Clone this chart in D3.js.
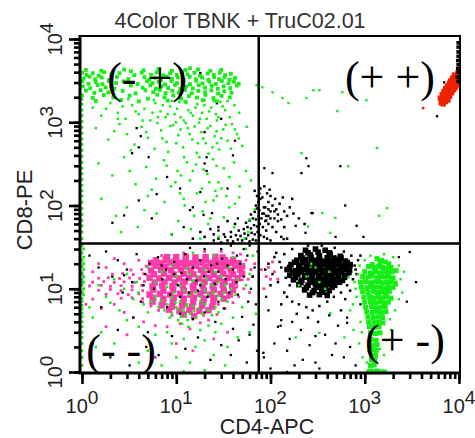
<!DOCTYPE html>
<html>
<head>
<meta charset="utf-8">
<script src="https://cdn.jsdelivr.net/npm/d3@7"></script>
<style>
  body { margin: 0; background: #fff; }
</style>
</head>
<body>
<svg id="chart"></svg>
<script>
// Axis decades and their exponent labels
const tickPowers = [1, 10, 100, 1000, 10000];
const exponentLabels = ["0", "1", "2", "3", "4"];

// Quadrant gates (CD4, CD8)
const gateCD4 = 75;
const gateCD8 = 35;

// Events as [CD4-APC, CD8-PE]

// CD8+ T cells, dense band at top left
const greenBand = [
  [1.1,4250],[1.6,4150],[2.8,4300],[4.5,4200],[6.5,4350],[9,4150],[12.5,4250],[17,4300],[23,4150],[30,4250],[3.3,4100],[14,4450],
  [1.0,3950],[1.12,3700],[1.3,3880],[1.5,3620],[1.72,3990],[2.05,3750],[2.5,3900],[3.6,3680],[4.3,3950],[5.4,3720],[6.2,3980],
  [7.3,3650],[8.6,3870],[10.1,3700],[11.5,4020],[13.2,3760],[15.6,3920],[17.9,3640],[21.5,3850],[25,3700],[29,3950],[33,3680],[38,3820],
  [1.04,3350],[1.2,3520],[1.38,3280],[1.62,3450],[1.95,3230],[2.35,3500],[3.1,3300],[4.6,3480],[5.2,3250],[6.0,3420],[6.9,3210],
  [7.9,3530],[9.0,3300],[10.4,3460],[12.0,3240],[13.9,3510],[16.1,3280],[18.8,3440],[21.9,3220],[25.3,3500],[28.4,3300],[32.5,3470],[36.8,3250],[42,3400],
  [1.0,3100],[1.17,2900],[1.4,3050],[1.65,2870],[1.92,3140],[2.3,2960],[2.75,3100],[3.9,2880],[4.9,3120],[5.6,2930],[6.5,3060],
  [7.6,2850],[8.9,3130],[10.2,2950],[11.9,3080],[14,2870],[16.3,3150],[19,2920],[22.4,3070],[26.3,2880],[30.5,3120],[35.8,2940],[41,3060],[46,2900],
  [1.02,2700],[1.22,2560],[1.46,2790],[1.78,2620],[2.2,2520],[3.3,2760],[4.4,2600],[5.3,2780],[6.1,2540],[7.0,2700],[8.2,2580],
  [9.7,2800],[11.0,2530],[12.8,2680],[15,2550],[17.3,2780],[20.2,2600],[23.8,2740],[27.6,2520],[31.8,2700],[37.3,2570],[44,2760],
  [1.1,2400],[1.35,2250],[1.58,2430],[1.9,2280],[2.7,2380],[3.7,2220],[4.7,2420],[5.7,2300],[6.7,2450],[7.7,2240],[9.1,2390],
  [10.6,2270],[12.4,2440],[14.6,2230],[17.1,2380],[20.3,2290],[23.6,2420],[27.8,2210],[32.4,2360],[38.5,2260],
  [1.0,2100],[1.3,1960],[1.7,2120],[2.15,1990],[3.2,2080],[5.0,1920],[6.3,2140],[7.5,2000],[9.3,2100],[11.2,1930],[13.6,2060],
  [16.6,1980],[20.4,2130],[24.8,1950],[30.2,2070],[37,1990],
  [1.4,1800],[2.6,1850],[4.0,1780],[8.1,1820],[12.5,1760],[19,1840],[27,1790]
];

// CD8+ events spread below the band
const greenUpper = [
  [1.3,1500],[1.6,1200],[2.0,1700],[2.4,1300],[2.9,1100],[3.4,1600],[4.0,1250],[4.6,1450],[5.3,1050],[6.0,1700],
  [6.8,1350],[7.7,1150],[8.6,1550],[9.6,1250],[10.8,1750],[12,1050],[13.4,1400],[15,1200],[16.8,1650],[18.8,1300],
  [21,1100],[23.5,1500],[26.3,1250],[29.4,1750],[33,1400],[37,1150],[41.5,1600],[46.5,1300],[3.1,1900],[5.8,1850],
  [11.5,1900],[20,1850],[27,1050],[35,1800],
  [1.8,1450],[2.7,1550],[3.7,1350],[4.4,1050],[5.6,1300],[7.2,1600],[8.1,1250],[9.0,1800],[10.2,1450],[11.1,1150],
  [12.8,1700],[14.2,1300],[16,1500],[17.8,1100],[19.9,1600],[22.3,1350],[24.9,1800],[28,1150],[31,1550],[2.4,1100],
  [6.4,1150],[9.9,1000],
  [1.4,850],[1.9,620],[2.5,950],[3.0,720],[3.6,540],[4.3,880],[5.0,650],[5.9,480],[6.9,800],[7.9,580],
  [9.2,920],[10.5,700],[11.8,500],[13.3,850],[14.8,620],[16.5,430],[18.5,760],[20.5,560],[23,900],[25.5,680],
  [28.5,470],[31.5,820],[35,600],[39,950],[44,720],[50,520],[8.2,440],[12.6,980],[17.5,990],[22,420],
  [27,560],[3.3,460],[2.2,780],[6.3,980],[56,880],
  [4.8,760],[7.1,640],[8.6,900],[10.0,560],[11.1,820],[13.9,720],[15.7,890],[17,560],[19.3,640],[21.5,850],
  [24.2,500],[26.8,780],[30,640],[33.4,930],[38,480],[42,820],[46,640],
  [1.5,320],[2.1,230],[2.8,380],[3.7,180],[4.8,290],[6.1,210],[7.4,350],[8.8,170],[10.3,260],[12.1,380],
  [14,200],[16.2,310],[18.7,160],[21.4,240],[24.5,360],[28,190],[32,280],[36.5,220],[41,330],[47,170],
  [55,260],[62,200],[9.8,190],[13,330],[19.5,270],[26,150],[5.5,155],[3.2,260],
  [7.9,300],[11.2,230],[15,260],[17.6,380],[22.5,190],[26.8,300],[30.2,160],
  [1.6,120],[2.3,75],[3.0,95],[3.9,55],[5.0,130],[6.2,80],[7.5,110],[8.9,45],[10.5,65],[12.3,100],
  [14.3,52],[16.6,140],[19,85],[21.8,60],[24.8,115],[28.2,42],[32,72],[36.5,95],[41,55],[46.5,125],
  [53,40],[60,68],[68,90],[11,140],[18,40],[27,130],[42,105],[58,48],[2.6,48],[4.6,88],
  [12,120],[15.5,75],[20.5,110],[23,70],[34,130]
];

// green events piled on the CD4 axis
const greenAxis = [
  [1,1900],[1,1650],[1,1400],[1,1200],[1,1020],[1,870],[1,740],[1,630],[1,540],[1,460],[1,390],[1,330],
  [1,280],[1,240],[1,205],[1,175],[1,150],[1,130],[1,110],[1,92],[1,78],[1,66],[1,57],[1,48],[1,40],
  [1,33],[1.04,30],[1,27],[1.04,24],[1,22],[1.04,20],[1,18.5],[1.04,17],[1,15.5],[1.04,14],[1,13],[1.04,12],
  [1,11],[1.04,10],[1,9.2],[1.04,8.4],[1,7.6],[1,7],[1,6.3],[1,5.7],[1,5.1],[1,4.6],[1,4],[1,3.5],[1,3],
  [1,2.6],[1,2.2],[1,1.8],[1,1.5],[1,1.2]
];

// green events in the double-negative quadrant
const greenLow = [
  [6,8],[7,7.2],[8,6.5],[9,7.8],[10,6],[11,7],[12,5.5],[13,6.5],[14,5],[15,6.2],[16,4.5],[17,5.8],[18,7],[19,5],
  [20,6.5],[22,5.5],[24,4.8],[26,6],[28,5.2],[30,7.5],[9,5],[10.5,4.2],[12.5,4.8],[8.5,4.5],[11.5,3.8],[13.5,3.5],
  [7.5,5.5],[6.5,6],[5.5,7],[5,5.2],[4.5,6.5],[9.5,9],[12,9.5],[14,8.5],[16,9],[18,8],[20,9.5],[22,8.5],[25,9],
  [28,8.2],[32,9],[35,7],[24,11],[19,11.5],[15,12.5],[11,11],[8,10.5],[6,12],[28,12],[33,11],[38,10],[42,8.5],
  [30,14],[26,16],[20,17],[14,15],[10,14],[7,16],[36,18],[45,13],[18,3.2],[22,3.6],[26,3],[8,3],[6,2.8],[4,3.5],
  [3,4.2],[2.5,5.5],[2,6.8],[3.5,7.5],[4,9],[2.8,10],[1.8,8],[1.5,11],[2.2,13],[3,15],[5,18],[3.8,12],[12,2.5],
  [16,2],[9,2.2],[20,2.4],[30,3.8],[40,4.5],[50,6],[55,11],[60,15],[48,20],[40,24],[25,25],[15,27],[55,30],
  [65,25],[5,1.8],[10,1.5],[14,1.3],[25,1.6],[35,2],[45,2.6],[60,3],[70,5],[33,1.2],[20,1.05],[12,1.02],[4,1.3],
  [2.2,2.2],[1.6,3],[1.3,4.5],[1.2,6],[1.4,2],[7,1.2],[17,14],[21,13],[13,17.5],[9,19],
  [10.5,5.6],[12.8,6.2],[15.5,5.4],[11.2,4.6],[13.2,4.2],[9.8,6.8]
];

// CD4+ T cells, green column
const greenColumn = [
  [1350,23],[1500,22],[1650,21],[1450,20.5],[1800,20],[1200,19.5],
  [1100,18.5],[1250,18],[1400,18.5],[1550,18],[1700,17.5],[1900,18],[1300,17],
  [1000,16],[1150,15.5],[1300,16],[1450,15.5],[1600,16],[1750,15.5],[1950,16],[2150,16.5],
  [950,14],[1080,13.8],[1200,14.2],[1350,13.6],[1500,14],[1650,13.8],[1800,14],[2000,13.5],
  [900,12],[1020,12.2],[1150,11.8],[1280,12],[1420,12.2],[1560,11.8],[1720,12],[1900,12.2],[2100,11.7],
  [920,10.5],[1050,10.3],[1180,10.6],[1320,10.4],[1470,10.5],[1620,10.2],[1780,10.6],[2000,10.4],
  [950,9.2],[1080,9.0],[1220,9.3],[1360,9.0],[1500,9.2],[1650,9.0],[1820,9.3],
  [980,7.9],[1120,8.0],[1260,7.8],[1400,8.0],[1550,7.8],[1720,8.0],[1900,7.7],
  [1000,6.9],[1150,7.0],[1300,6.8],[1450,7.0],[1600,6.8],[1780,6.9],
  [1020,6.0],[1180,6.1],[1330,5.9],[1480,6.0],[1650,6.1],
  [1050,5.3],[1200,5.2],[1350,5.3],[1500,5.2],[1680,5.3],
  [1080,4.6],[1230,4.5],[1380,4.6],[1550,4.5],
  [1100,4.0],[1250,3.95],[1400,4.0],[1560,3.9],
  [1120,3.5],[1270,3.45],[1420,3.5],
  [1150,2.95],[1300,2.9],[1450,2.95],
  [1170,2.45],[1320,2.4],[1200,2.1],[1350,2.12],[1220,1.85],[1330,1.82],
  [1200,1.6],[1300,1.58],[1180,1.4],[1280,1.38],[1150,1.2],[1260,1.22],
  [1100,1.0],[1200,1.0],[1300,1.0],[1400,1.0],[1500,1.0],[1620,1.0],[1150,1.03],[1350,1.03]
];
const greenColumnFringe = [
  [780,12],[820,8],[850,15],[700,5.5],[760,3.2],[880,19],[870,2.2],[2400,13],[2500,9],[2300,19],
  [2600,16],[2100,5.5],[1900,3.2],[1700,2.4],[1000,22],[1150,25],[1600,26],[2000,24],[950,1.5],[1050,1.3],
  [1600,1.6],[800,10],[750,6.5],[2300,7.5],[1850,4.3],[900,4.0],[930,3.0],[1100,1.8],[1450,1.9],[2200,11],
  [330,2.95],[610,2.6],[185,2.6],[430,5.1],[670,13.8],[240,14],[330,12],[300,18],[420,16],[200,11],[270,20],[380,10]
];

// green events in the CD4+CD8+ region
const greenUpperRight = [
  [71,2790],[82,2630],[105,2290],[134,1950],[155,1700],[240,1950],[285,2430],[330,2430],[578,2290],[1040,1840],
  [512,1360],[1355,490],[213,425],[668,297],[355,81],[487,71],[1420,75],[1730,93],[250,56],[430,47]
];

// pink population (CD3- / NK)
const pinkCore = [
  [8,24],[10,24],[12.6,24.3],[16,23.8],[20.5,24],[26,24.2],[31,23.8],
  [6.1,22],[7.7,22.3],[9.9,21.8],[12.6,22.2],[16,22],[20.5,22.3],[26,21.8],[33,22],[40,22.2],
  [5.4,20.4],[6.9,20.2],[8.8,20.6],[11.2,20.4],[14.2,20.2],[18.2,20.6],[23.2,20.4],[29.6,20.2],[37.8,20.5],[46,20.3],
  [6.1,18.9],[7.7,18.5],[9.9,18.8],[12.6,18.6],[16,18.9],[20.5,18.5],[26.2,18.8],[33.4,18.6],[42.6,18.9],[50,18.6],
  [5.4,16.6],[6.9,16.9],[8.8,16.7],[11.2,17],[14.2,16.6],[18.2,16.9],[23.2,16.7],[29.6,17],[37.8,16.6],[48,16.9],
  [5.8,14.9],[7.4,15.2],[9.4,14.8],[12,15.1],[15.2,14.9],[19.5,15.2],[25,14.8],[31.5,15.1],[40,14.9],[50,15.1],
  [5.2,13.6],[6.6,13.3],[8.4,13.5],[10.7,13.3],[13.6,13.6],[17.4,13.3],[22.2,13.5],[28.3,13.3],[36,13.6],[45,13.4],
  [5.9,11.9],[7.5,12.1],[9.6,11.9],[12.3,12.2],[15.7,11.9],[20,12.1],[25.6,11.9],[32.7,12.2],[41.7,12],
  [5.6,10.7],[7.1,10.9],[9.1,10.7],[11.7,11],[15,10.7],[19.1,10.9],[24.4,10.7],[31.2,11],[39,10.8],
  [5.7,9.8],[7.3,9.5],[9.3,9.7],[12,9.5],[15.3,9.8],[19.6,9.5],[25,9.7],[32,9.5],[40,9.7],
  [5.2,8.5],[6.7,8.7],[8.6,8.5],[11,8.7],[14.1,8.5],[18,8.7],[23,8.5],[29.5,8.7],[37,8.5],
  [5.7,7.8],[7.3,7.6],[9.4,7.8],[12,7.6],[15.4,7.8],[19.7,7.6],[25.2,7.8],[32,7.6],
  [5.6,7.0],[7.2,6.8],[9.2,7.0],[11.8,6.8],[15.1,7.0],[19.3,6.8],[24.7,7.0],
  [7,6.3],[9,6.1],[11.5,6.3],[14.7,6.1],[18.8,6.3],[24,6.1],
  [8.4,5.6],[10.8,5.4],[13.8,5.6],[17.6,5.4],[22,5.5],[12,4.9],[15.5,4.7]
];
const pinkFringe = [
  [4.8,18.7],[3.3,16.8],[4.3,17],[2.1,15],[2.7,15.2],[3.5,14.8],[4.5,15.1],[1.5,13.4],[1.9,13.6],[2.5,13.3],
  [3.2,13.5],[4.1,13.3],[1.3,12],[1.7,12.2],[2.2,11.9],[2.8,12.1],[3.6,11.9],[4.6,12.2],[1.2,10.8],[1.6,11],
  [2.0,10.7],[2.6,10.9],[3.4,10.7],[4.3,11],[1.5,9.6],[2.0,9.8],[2.6,9.5],[3.4,9.7],[4.4,9.5],[1.8,8.6],
  [2.4,8.7],[3.1,8.5],[4.0,8.7],[2.6,7.7],[3.4,7.8],[4.4,7.6],[4.4,6.9],[5.4,6.2],[6.5,5.5],[9,4.8],[19.5,4.8],
  [1.0,12],[1.0,9],[1.0,15],[1.1,6.5],[1.3,7.5],[1.6,5.8],[2.2,6.5],[2.8,5.2],[3.5,4.5],[4.5,4.0],
  [6,3.6],[8,3.5],[11,3.8],[14,3.3],[18,3.9],[22,4.2],[27,4.9],[33,5.8],[40,6.8],[46,8],
  [52,10],[58,13],[62,17],[55,22],[48,26],[40,27],[30,28],[20,28],[12,27],[7,25],
  [4,22],[2.8,20],[1.8,18],[1.3,16],[1.5,20],[2.2,23],[64,14],[68,20],[60,9],[25,2.5],
  [10,2.2],[3,2.8],[1.8,3.5],[6,1.5],[15,1.8],[35,3],[80,17],[90,14],[85,10],[95,18],
  [100,13],[110,16],[120,13],[105,21],[44,10.5],[50,12.8],[28,6.5],[36,7.8]
];

// black events: lower left scatter
const blackLow = [
  [1.2,25],[1.5,18],[1.8,28],[2.1,14],[2.4,22],[2.7,9],[3.0,17],[3.4,12],[3.8,26],[4.2,7],[4.7,15],[5.2,20],
  [5.8,10],[6.4,24],[7.1,13],[7.8,17],[8.6,8.5],[9.5,21],[10.4,11],[11.4,15.5],[12.5,26],[13.7,9],[15,18],
  [16.4,12.5],[18,22],[19.7,14],[21.5,8],[23.5,19],[25.7,11.5],[28,16],[30.6,23],[33.4,13],[36.5,9],[40,17],
  [43.6,12],[47.6,20],[52,14],[56.8,25],[62,10],[67.8,18],[73,28],[8,6],[11,5],[15,4.3],[20,5.2],[26,4],
  [32,5.8],[40,3.3],[50,4.6],[60,2.8],[70,6.5],[5,3],[3.5,4.5],[2.4,3.2],[1.6,6],[1.3,2.2],[2,1.5],[3.2,1.2],
  [4.8,2],[6.5,1.6],[9,2.7],[12.5,1.9],[17,2.6],[23,1.4],[30,2.1],[38,1.6],[46,2.4],[56,1.3],[66,3.7],[72,1.8],
  [18,11],[22,16],[27,20],[13,13],[9.5,15],[7,19],[35,19],[44,25],[52,30],[30,30],[20,30],[14,31],[60,33],
  [38,33],[65,14],[58,7],[45,8.5],[28,7],[17,9.5],[11,8],[4.5,11],[2.8,14.5]
];

// black events: lower right scatter
const blackLowRight = [
  [120,3.5],[160,2.5],[210,3.2],[150,1.8],[260,2.1],[300,1.3],[380,2.8],[450,1.6],[95,5.5],[110,2.2],
  [85,1.5],[100,1.1],[520,3.6],[700,2.0],[650,4.5],[900,6.5],[3000,27.6],[2300,24],[2800,7],[3500,12],
  [90,8],[220,1.4],[330,1.1],[800,1.2],[130,4.2],[180,1.2],[600,1.5],[650,3.9],[490,2.2],[150,1.0],
  [84,1.7],[128,3.6],[170,4],[300,2.7]
];

// black dense cluster (CD4 dim, CD8-)
const blackCluster = [
  [235,29],[300,30],[380,29],[250,27],[320,27.5],[420,27],
  [210,25],[265,25.5],[330,25],[430,26],[550,24.5],
  [215,23.5],[270,23.8],[330,23.3],[400,23.6],[470,23.4],[560,23.7],
  [190,22],[235,22.5],[290,22],[350,21.5],[420,22],[500,22.5],[620,21.5],
  [180,20.8],[220,20.6],[270,20.9],[325,20.6],[390,20.8],[460,20.6],[540,20.9],[650,20.7],
  [165,19.5],[205,19],[250,19.5],[300,19],[360,19.5],[430,19],[500,19.5],[580,19],[700,19.5],
  [160,18],[200,18.2],[240,17.9],[290,18.1],[340,17.9],[400,18.2],[470,17.9],[550,18.1],[640,18],
  [150,17],[185,16.5],[225,17],[270,16.5],[320,17],[380,16.5],[440,17],[510,16.5],[600,17],[690,16.8],
  [170,15.7],[210,15.9],[255,15.6],[300,15.8],[355,15.6],[410,15.9],[480,15.6],[570,15.8],[680,15.7],
  [160,14.5],[195,14.8],[235,14.5],[280,14.8],[330,14.5],[390,14.8],[450,14.5],[530,14.8],[640,14.5],
  [185,13.6],[230,13.8],[275,13.5],[325,13.7],[380,13.5],[440,13.8],[520,13.5],[610,13.7],
  [175,12.8],[215,12.6],[260,12.8],[310,12.6],[360,12.8],[420,12.6],[490,12.8],[580,12.6],
  [210,11.9],[270,12],[330,11.8],[390,12],[460,11.9],[540,12],
  [200,11.2],[250,11],[300,11.2],[350,11],[410,11.2],[480,11],
  [240,10.3],[310,10.4],[380,10.2],[450,10.4],[230,9.7],[290,9.5],[350,9.7],[420,9.5],
  [280,9],[360,9.1],[260,8.4],[330,8.5],[400,8.3]
];
const blackClusterFringe = [
  [95,20],[105,15],[110,24],[120,12],[130,18],[140,9],[100,11],[88,17],[115,27],[150,8],[170,7],[200,6.5],
  [240,6],[280,5.5],[330,6.2],[400,7],[470,8],[560,9],[650,11],[750,13],[800,17],[850,22],[720,25],[600,28],
  [480,31],[350,33],[250,33],[170,30],[140,26],[125,21],[160,11],[145,13.5],[780,19],[820,15],[900,25],
  [250,4.5],[320,4],[420,4.8],[190,5],[560,5.5],[130,6.5],[620,7.5],[700,9.5]
];

// black events along the gate corner
const blackCorner = [
  [35,38],[40,37],[45,39],[50,38],[55,40],[60,37],[65,39],[70,38],[38,42],[43,44],[48,43],[53,46],[58,44],
  [63,47],[68,45],[73,48],[78,44],[85,42],[92,40],[100,38],[46,50],[52,52],[57,55],[62,53],[67,58],[72,56],
  [77,60],[83,55],[90,50],[55,62],[60,66],[65,70],[70,68],[75,74],[80,70],[88,65],[95,60],[105,55],[62,78],
  [68,84],[72,92],[76,88],[82,80],[90,75],[100,70],[70,100],[74,110],[78,120],[72,130],[76,140],[68,150],
  [85,95],[95,90],[110,85],[120,65],[115,48],[130,42],[140,55],[150,40],[30,36],[28,40],[25,45],
  [15,40],[20,42],[25,38],[18,48],[23,52],[32,45],[28,55],[38,48],[42,60],[35,65],
  [85,80],[90,66],[95,75],[100,85],[110,70],[120,78],[130,68],[88,95],[95,110],[105,100],[115,90],
  [125,105],[140,85],[150,75],[82,125],[92,140],[100,130],[112,120],[78,160],[86,170],[98,155],[135,125],
  [160,95],[175,80],[200,70],[230,60],[170,120]
];

// black events in upper quadrants
const blackUpper = [
  [18,3900],[6,2500],[11,2130],[27,1690],[20,760],[3.8,850],[4.2,680],[3.4,425],[5.1,380],[21,380],[40,400],
  [4,500],[20,320],[21,260],[11,160],[18,145],[6.2,137],[4,115],[14,88],[24,81],[2.8,76],[2.1,62],[5.5,70],
  [15,95],[19.5,77],[42,600],[30,1100],[8,220],[35,160],[28,50],[12,55],[45,70],[9,45],[33,42],
  [280,81],[620,100],[820,57],[185,57],[235,47],[490,42],[970,42],[138,39.5],[240,370],[253,297],[86,281],
  [105,245],[213,245],[551,297],[272,81],[5850,1180],[6960,3020]
];

// black events saturated at the CD4 ceiling
const blackEdge = [
  [9800,9000],[9800,8000],[9800,7000],[9800,6200],[9700,5500],[9800,4900],[9700,4400],[9800,4000],[9600,3500],[9800,3100]
];

// double-positive red population
const redCluster = [
  [9750,3880],[9290,3670],[10000,3480],[9070,3380],[9520,3200],[8640,3110],[9290,2950],[8230,2870],[8850,2710],
  [7840,2640],[8430,2570],[7460,2500],[8030,2360],[7280,2300],[7650,2170],[6930,2110],[7460,2060],[6780,2000],
  [7110,1890],[6610,1840],[6930,1790],[6460,1740],[7280,1950],[7840,2300],[8430,2790],[9070,3030],[9750,3290],
  [8230,2430],[6780,2170],[7650,1840],
  [8900,3700],[8500,3400],[8100,3150],[7900,2950],[7500,2750],[7200,2550],[6900,2350],[6600,2150],[6300,1950],
  [6500,1700],[6800,1680],[9700,3900],[10000,4000],[10000,3700],[10000,3200],[10000,2950],[9600,2800],[9200,2600],
  [8800,2450],[8400,2250],[8000,2050],[7600,1900],[7200,1760],[6800,1650]
];
const redStray = [[4160,1480]];

// quadrant labels, placed in data coordinates
const quadrantLabels = [
  { text: "(- +)", cd4: 4.9, cd8: 2250 },
  { text: "(+ +)", cd4: 1850, cd8: 2300 },
  { text: "(+ -)", cd4: 2670, cd8: 1.6 },
  { text: "(- -)", cd4: 2.6, cd8: 1.21 }
];

const width = 475;
const height = 438;

const svg = d3.select("#chart")
    .attr("width", width)
    .attr("height", height);

const x = d3.scaleLog().domain([1, 10000]).range([82, 459]);
const y = d3.scaleLog().domain([1, 10000]).range([372, 39]);

// clip to the plot frame
svg.append("clipPath").attr("id", "frame")
  .append("rect").attr("x", 80).attr("y", 36).attr("width", 380).attr("height", 337);

const plot = svg.append("g").attr("clip-path", "url(#frame)");

function dots(data, color, size) {
    plot.append("g")
        .attr("fill", color)
        .selectAll("rect")
        .data(data)
        .join("rect")
        .attr("x", d => x(d[0]) - size / 2)
        .attr("y", d => y(d[1]) - size / 2)
        .attr("width", size)
        .attr("height", size);
}

const GREEN = "#14ee14";
const PINK = "#fb3caa";
const RED = "#ee2200";
const BLACK = "#000";

dots(pinkFringe, PINK, 2.8);
dots(pinkCore, PINK, 6.4);
dots(greenAxis, GREEN, 2.8);
dots(greenLow, GREEN, 2.5);
dots(blackLow, BLACK, 2.3);
dots(blackLowRight, BLACK, 2.3);
dots(blackClusterFringe, BLACK, 2.5);
dots(blackCluster, BLACK, 5.6);
dots(blackCorner, BLACK, 2.5);
dots(blackUpper, BLACK, 2.3);
dots(greenColumn, GREEN, 5);
dots(greenColumnFringe, GREEN, 2.4);
dots(greenUpper, GREEN, 2.5);
dots(greenUpperRight, GREEN, 2.4);
dots(greenBand, GREEN, 3.8);
dots(redCluster, RED, 5);
dots(redStray, RED, 2.6);
dots(blackEdge, BLACK, 3.6);

// gate lines
svg.append("line")
    .attr("x1", x(gateCD4)).attr("x2", x(gateCD4))
    .attr("y1", 36).attr("y2", 373)
    .attr("stroke", "#000").attr("stroke-width", 2.5);
svg.append("line")
    .attr("x1", 80).attr("x2", 460)
    .attr("y1", y(gateCD8)).attr("y2", y(gateCD8))
    .attr("stroke", "#000").attr("stroke-width", 2.5);

// frame
svg.append("path")
    .attr("d", "M80,36H460V373")
    .attr("fill", "none").attr("stroke", "#000").attr("stroke-width", 2);
svg.append("path")
    .attr("d", "M80,35V373H461")
    .attr("fill", "none").attr("stroke", "#000").attr("stroke-width", 3);

// axes: minor then major ticks
function styleAxis(g) {
    g.select(".domain").remove();
    g.selectAll("line").attr("stroke", "#000").attr("stroke-width", 2.6);
}
svg.append("g").attr("transform", "translate(0,373)")
    .call(d3.axisBottom(x).tickValues(x.ticks()).tickSize(6).tickSizeOuter(0).tickFormat(""))
    .call(styleAxis);
svg.append("g").attr("transform", "translate(0,373)")
    .call(d3.axisBottom(x).tickValues(tickPowers).tickSize(11).tickSizeOuter(0).tickFormat(""))
    .call(styleAxis);
svg.append("g").attr("transform", "translate(80,0)")
    .call(d3.axisLeft(y).tickValues(y.ticks()).tickSize(6).tickSizeOuter(0).tickFormat(""))
    .call(styleAxis);
svg.append("g").attr("transform", "translate(80,0)")
    .call(d3.axisLeft(y).tickValues(tickPowers).tickSize(11).tickSizeOuter(0).tickFormat(""))
    .call(styleAxis);

const sans = "'Liberation Sans', Arial, Helvetica, sans-serif";

// tick labels 10^n
const xLabels = svg.append("g")
    .attr("font-family", sans).attr("font-size", 20).attr("fill", "#222")
    .selectAll("text").data(tickPowers).join("text")
    .attr("x", d => x(d)).attr("y", 413)
    .attr("text-anchor", "middle");
xLabels.append("tspan").text("10");
xLabels.append("tspan").attr("dy", -9).attr("font-size", 19).text((d, i) => exponentLabels[i]);

const yLabels = svg.append("g")
    .attr("font-family", sans).attr("font-size", 20).attr("fill", "#222")
    .selectAll("text").data(tickPowers).join("text")
    .attr("transform", d => `translate(62,${y(d)}) rotate(-90)`)
    .attr("text-anchor", "middle");
yLabels.append("tspan").text("10");
yLabels.append("tspan").attr("dy", -9).attr("font-size", 19).text((d, i) => exponentLabels[i]);

// titles
svg.append("text")
    .attr("x", 240).attr("y", 28)
    .attr("text-anchor", "middle")
    .attr("font-family", sans).attr("font-size", 21.5).attr("fill", "#333")
    .text("4Color TBNK + TruC02.01");
svg.append("text")
    .attr("x", 267).attr("y", 434)
    .attr("text-anchor", "middle")
    .attr("font-family", sans).attr("font-size", 21.5).attr("fill", "#222")
    .text("CD4-APC");
svg.append("text")
    .attr("transform", "translate(32,210) rotate(-90)")
    .attr("text-anchor", "middle")
    .attr("font-family", sans).attr("font-size", 22).attr("fill", "#222")
    .text("CD8-PE");

// quadrant labels
svg.append("g")
    .attr("font-family", "'Liberation Serif', 'Times New Roman', serif")
    .attr("font-size", 44).attr("fill", "#000")
    .selectAll("text").data(quadrantLabels).join("text")
    .attr("x", d => x(d.cd4)).attr("y", d => y(d.cd8))
    .attr("text-anchor", "middle")
    .text(d => d.text);
</script>
</body>
</html>
